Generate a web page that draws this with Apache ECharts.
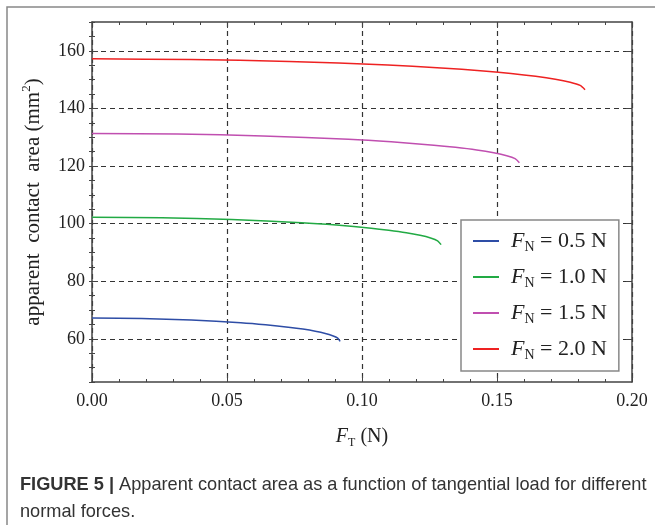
<!DOCTYPE html>
<html>
<head>
<meta charset="utf-8">
<script src="https://cdn.jsdelivr.net/npm/echarts@6/dist/echarts.min.js"></script>
<style>
  html, body { margin: 0; padding: 0; background: #fff; }
  #diagram { width: 655px; height: 525px; }
</style>
</head>
<body>
<div id="diagram"></div>
<script>
// normal force of each curve (N)
var forceLabels = ['0.5', '1.0', '1.5', '2.0'];
var lineColors = ['#2e4da6', '#22aa44', '#c04fb0', '#ee2222'];

// tangential load F_T (N) and apparent contact area (mm^2)
var ft05 = [0, 0.0184, 0.0368, 0.0551, 0.0643, 0.0735, 0.0781, 0.0827, 0.0864, 0.0891, 0.0910, 0.0919];
var area05 = [67.2, 67.04, 66.52, 65.58, 64.88, 63.96, 63.37, 62.63, 61.86, 61.07, 60.24, 59.1];

var ft10 = [0, 0.0259, 0.0517, 0.0776, 0.0905, 0.1034, 0.1099, 0.1164, 0.1215, 0.1254, 0.1280, 0.1293];
var area10 = [102.2, 102.01, 101.41, 100.3, 99.48, 98.4, 97.7, 96.84, 95.94, 95.01, 94.04, 92.7];

var ft15 = [0, 0.0317, 0.0633, 0.0950, 0.1108, 0.1266, 0.1346, 0.1425, 0.1488, 0.1536, 0.1567, 0.1583];
var area15 = [131.3, 131.09, 130.45, 129.26, 128.38, 127.22, 126.47, 125.55, 124.58, 123.58, 122.54, 121.1];

var ft20 = [0, 0.0365, 0.0730, 0.1096, 0.1278, 0.1461, 0.1552, 0.1643, 0.1716, 0.1771, 0.1808, 0.1826];
var area20 = [157.2, 156.98, 156.31, 155.06, 154.14, 152.92, 152.14, 151.16, 150.15, 149.10, 148.01, 146.5];

// axis ticks
var yTickValues = [60, 80, 100, 120, 140, 160];

var allFt = [ft05, ft10, ft15, ft20];
var allArea = [area05, area10, area15, area20];

var serif = 'Liberation Serif';
var axisColor = '#444';

var myChart = echarts.init(document.getElementById('diagram'));

var series = forceLabels.map(function (f, i) {
  return {
    name: f,
    type: 'line',
    xAxisIndex: 0,
    yAxisIndex: 0,
    showSymbol: false,
    smooth: 0.25,
    lineStyle: { color: lineColors[i], width: 1.5 },
    itemStyle: { color: lineColors[i] },
    data: allFt[i].map(function (x, j) { return [x, allArea[i][j]]; })
  };
});

var splitDash = { show: true, lineStyle: { color: '#333', type: [5, 4], width: 1.2 } };

function xAxisCfg(pos, main) {
  return {
    type: 'value',
    position: pos,
    min: 0,
    max: 0.2,
    interval: 0.05,
    axisLine: { show: true, onZero: false, lineStyle: { color: axisColor, width: 1.5 } },
    axisTick: { show: true, inside: true, length: 6, lineStyle: { color: axisColor } },
    minorTick: { show: true, splitNumber: 5, length: 3, lineStyle: { color: axisColor } },
    axisLabel: {
      show: main, margin: 10, fontFamily: serif, fontSize: 18, color: '#222',
      formatter: function (v) { return v.toFixed(2); }
    },
    splitLine: main ? splitDash : { show: false },
    name: main ? '{i|F}{s|T}{t| (N)}' : '',
    nameLocation: 'middle',
    nameGap: 43,
    nameTextStyle: {
      rich: {
        i: { fontFamily: serif, fontStyle: 'italic', fontSize: 20, color: '#222', lineHeight: 24 },
        s: { fontFamily: serif, fontSize: 12, color: '#222', verticalAlign: 'bottom', lineHeight: 24 },
        t: { fontFamily: serif, fontSize: 20, color: '#222', lineHeight: 24 }
      }
    }
  };
}

function yMajor(pos, main) {
  return {
    type: 'value',
    position: pos,
    min: 45,
    max: 170,
    axisLine: { show: true, onZero: false, lineStyle: { color: axisColor, width: 1.5 } },
    axisTick: { show: true, inside: true, length: 6, customValues: yTickValues, lineStyle: { color: axisColor } },
    axisLabel: { show: main, customValues: yTickValues, margin: 7, fontFamily: serif, fontSize: 18, color: '#222' },
    splitLine: main ? splitDash : { show: false },
    name: main ? '{t|apparent  contact  area (mm}{p|2}{t|)}' : '',
    nameLocation: 'middle',
    nameGap: 46,
    nameTextStyle: {
      rich: {
        t: { fontFamily: serif, fontSize: 21, color: '#222', lineHeight: 26 },
        p: { fontFamily: serif, fontSize: 13, color: '#222', verticalAlign: 'top', lineHeight: 26 }
      }
    }
  };
}

function yMinor(pos) {
  return {
    type: 'value',
    position: pos,
    min: 45,
    max: 170,
    interval: 5,
    axisLine: { show: false },
    axisTick: { show: true, inside: true, length: 3, lineStyle: { color: axisColor } },
    axisLabel: { show: false },
    splitLine: { show: false }
  };
}

var option = {
  backgroundColor: '#fff',
  animation: false,
  grid: { left: 92, right: 23, top: 22, bottom: 143 },
  legend: {
    orient: 'vertical',
    left: 461,
    top: 220,
    padding: [10, 12, 9, 12],
    itemGap: 12,
    itemWidth: 26,
    itemHeight: 2,
    icon: 'rect',
    backgroundColor: '#fff',
    borderColor: '#888',
    borderWidth: 1.5,
    data: forceLabels,
    formatter: function (n) { return '{i|F}{s|N}{t| = ' + n + ' N}'; },
    textStyle: {
      padding: [0, 0, 0, 7],
      rich: {
        i: { fontFamily: serif, fontStyle: 'italic', fontSize: 22, color: '#222', lineHeight: 26 },
        s: { fontFamily: serif, fontSize: 14, color: '#222', verticalAlign: 'bottom', lineHeight: 26 },
        t: { fontFamily: serif, fontSize: 22, color: '#222', lineHeight: 26 }
      }
    }
  },
  xAxis: [xAxisCfg('bottom', true), xAxisCfg('top', false)],
  yAxis: [yMajor('left', true), yMinor('left'), yMajor('right', false), yMinor('right')],
  graphic: [
    {
      type: 'rect',
      z: -10,
      shape: { x: 7, y: 7, width: 700, height: 600 },
      style: { fill: 'none', stroke: '#888', lineWidth: 1.5 }
    },
    {
      type: 'text',
      left: 20,
      top: 471,
      style: {
        text: '{b|FIGURE 5 |} Apparent contact area as a function of tangential load for different\nnormal forces.',
        fontFamily: 'Liberation Sans',
        fontSize: 18.2,
        fill: '#333',
        lineHeight: 27,
        rich: {
          b: { fontFamily: 'Liberation Sans', fontSize: 18.2, fontWeight: 'bold', fill: '#333', lineHeight: 27 }
        }
      }
    }
  ],
  series: series
};

myChart.setOption(option);
</script>
</body>
</html>
